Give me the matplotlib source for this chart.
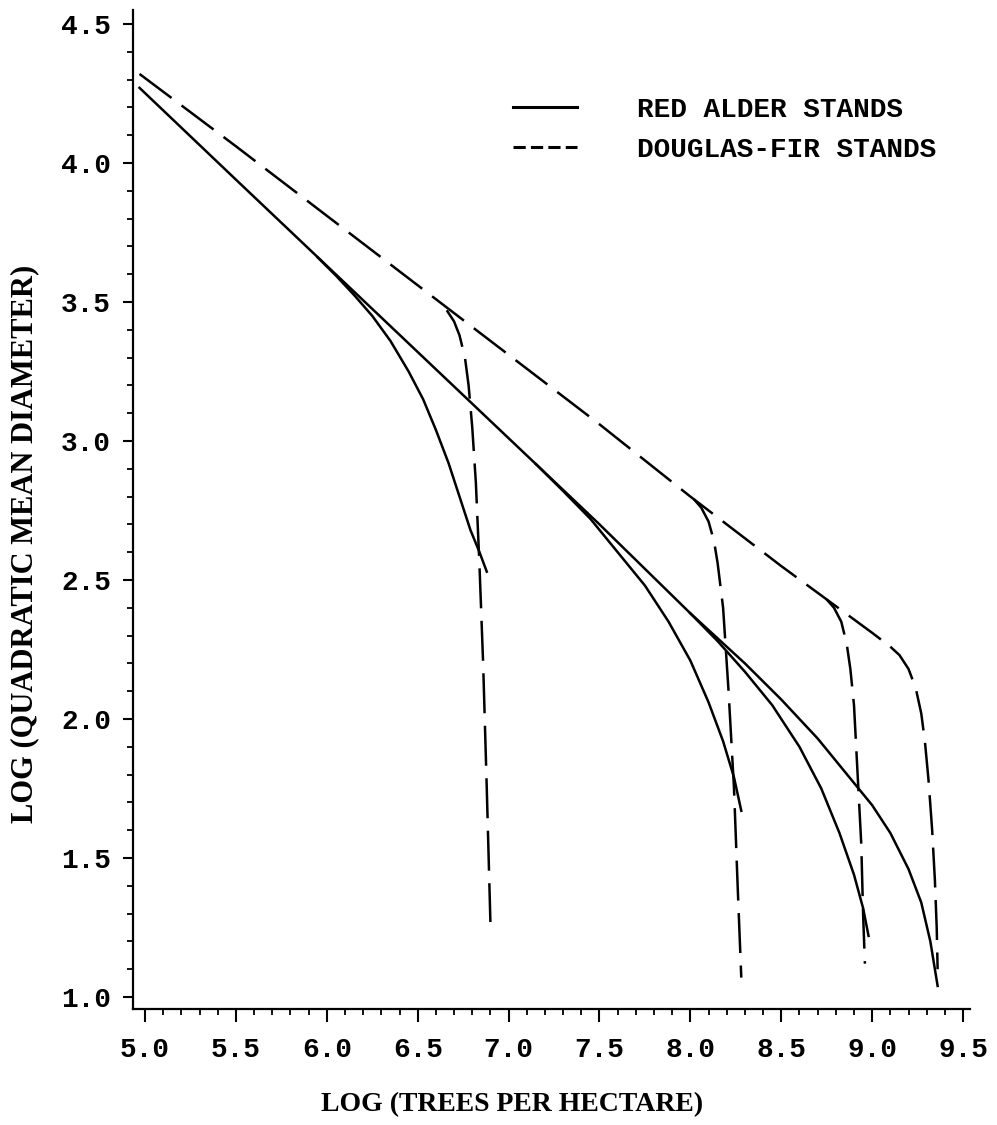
import matplotlib.pyplot as plt
from matplotlib.lines import Line2D
from matplotlib.ticker import MultipleLocator

# Douglas-fir self-thinning line and stand trajectories (dashed)
df_line_x = [4.97, 5.5, 6.0, 6.5, 7.0, 7.5, 8.0, 8.5, 9.0, 9.10]
df_line_y = [4.32, 4.06, 3.81, 3.56, 3.31, 3.06, 2.80, 2.55, 2.31, 2.26]
df_a_x = [6.66, 6.70, 6.73, 6.76, 6.78, 6.80, 6.82, 6.84, 6.86, 6.88, 6.90]
df_a_y = [3.47, 3.43, 3.38, 3.30, 3.20, 3.05, 2.85, 2.55, 2.20, 1.75, 1.27]
df_b_x = [8.02, 8.06, 8.10, 8.13, 8.15, 8.18, 8.21, 8.24, 8.26, 8.28]
df_b_y = [2.79, 2.76, 2.71, 2.64, 2.56, 2.40, 2.10, 1.75, 1.40, 1.07]
df_c_x = [8.75, 8.79, 8.83, 8.86, 8.88, 8.90, 8.92, 8.94, 8.95, 8.96]
df_c_y = [2.43, 2.40, 2.35, 2.27, 2.18, 2.05, 1.80, 1.55, 1.30, 1.12]
df_d_x = [9.10, 9.15, 9.20, 9.24, 9.27, 9.29, 9.31, 9.33, 9.345, 9.355, 9.36]
df_d_y = [2.26, 2.23, 2.18, 2.11, 2.02, 1.92, 1.78, 1.60, 1.42, 1.25, 1.10]

# red alder line and stand trajectories (solid)
ra_line_x = [4.97, 5.5, 6.0, 6.5, 7.0, 7.5, 8.0, 8.3, 8.5, 8.7, 8.85, 9.0,
             9.1, 9.2, 9.27, 9.32, 9.36]
ra_line_y = [4.27, 3.94, 3.63, 3.32, 3.01, 2.70, 2.38, 2.20, 2.07, 1.93, 1.81, 1.69,
             1.59, 1.46, 1.34, 1.20, 1.04]
ra_a_x = [5.95, 6.05, 6.15, 6.25, 6.35, 6.45, 6.53, 6.60, 6.67, 6.73, 6.79, 6.84, 6.88]
ra_a_y = [3.66, 3.595, 3.525, 3.45, 3.36, 3.25, 3.15, 3.04, 2.92, 2.80, 2.68, 2.60, 2.53]
ra_b_x = [7.15, 7.3, 7.45, 7.6, 7.75, 7.88, 8.0, 8.1, 8.18, 8.24, 8.28]
ra_b_y = [2.917, 2.82, 2.72, 2.60, 2.48, 2.35, 2.21, 2.06, 1.92, 1.79, 1.67]
ra_c_x = [8.0, 8.15, 8.3, 8.45, 8.6, 8.72, 8.82, 8.9, 8.95, 8.98]
ra_c_y = [2.38, 2.28, 2.17, 2.05, 1.90, 1.75, 1.59, 1.44, 1.32, 1.22]

legend_labels = ['RED ALDER STANDS', 'DOUGLAS-FIR STANDS']

mono = 'Liberation Mono'
serif = 'Liberation Serif'

fig = plt.figure(figsize=(9.97, 11.25), dpi=100)
ax = fig.add_axes([0.1334, 0.1031, 0.8395, 0.888])

lw = 1.8
for xs, ys in [(df_line_x, df_line_y), (df_a_x, df_a_y), (df_b_x, df_b_y),
               (df_c_x, df_c_y), (df_d_x, df_d_y)]:
    ax.plot(xs, ys, color='black', lw=lw, dashes=(16, 5))
for xs, ys in [(ra_line_x, ra_line_y), (ra_a_x, ra_a_y), (ra_b_x, ra_b_y),
               (ra_c_x, ra_c_y)]:
    ax.plot(xs, ys, color='black', lw=lw)

ax.set_xlim(4.934, 9.538)
ax.set_ylim(0.957, 4.55)

for s in ['top', 'right']:
    ax.spines[s].set_visible(False)
for s in ['left', 'bottom']:
    ax.spines[s].set_linewidth(1.6)

ax.xaxis.set_major_locator(MultipleLocator(0.5))
ax.xaxis.set_minor_locator(MultipleLocator(0.1))
ax.yaxis.set_major_locator(MultipleLocator(0.5))
ax.yaxis.set_minor_locator(MultipleLocator(0.1))
ax.tick_params(axis='x', which='major', length=9, width=1.5, pad=11)
ax.tick_params(axis='x', which='minor', length=4, width=1.3)
ax.tick_params(axis='y', which='major', length=7, width=1.5, pad=9)
ax.tick_params(axis='y', which='minor', length=4, width=1.3)
ax.xaxis.set_major_formatter(plt.FuncFormatter(lambda v, p: f'{v:.1f}'))
ax.yaxis.set_major_formatter(plt.FuncFormatter(lambda v, p: f'{v:.1f}'))
for lab in ax.get_xticklabels() + ax.get_yticklabels():
    lab.set_family(mono)
    lab.set_fontweight('bold')
    lab.set_fontsize(20)

ax.set_xlabel('LOG (TREES PER HECTARE)', family=serif, fontweight='bold',
              fontsize=20)
ax.xaxis.set_label_coords(0.453, -0.083)
ax.set_ylabel('LOG (QUADRATIC MEAN DIAMETER)', family=serif, fontweight='bold',
              fontsize=22)
ax.yaxis.set_label_coords(-0.112, 0.466)

handles = [Line2D([], [], color='black', lw=2.2),
           Line2D([], [], color='black', lw=2.2, dashes=(4, 1.7))]
ax.legend(handles, legend_labels, loc='upper left', bbox_to_anchor=(0.424, 0.938),
          frameon=False, handlelength=2.3, handletextpad=2.16, labelspacing=0.5,
          prop={'family': mono, 'weight': 'bold', 'size': 20})

fig.savefig('out.png', dpi=100)
